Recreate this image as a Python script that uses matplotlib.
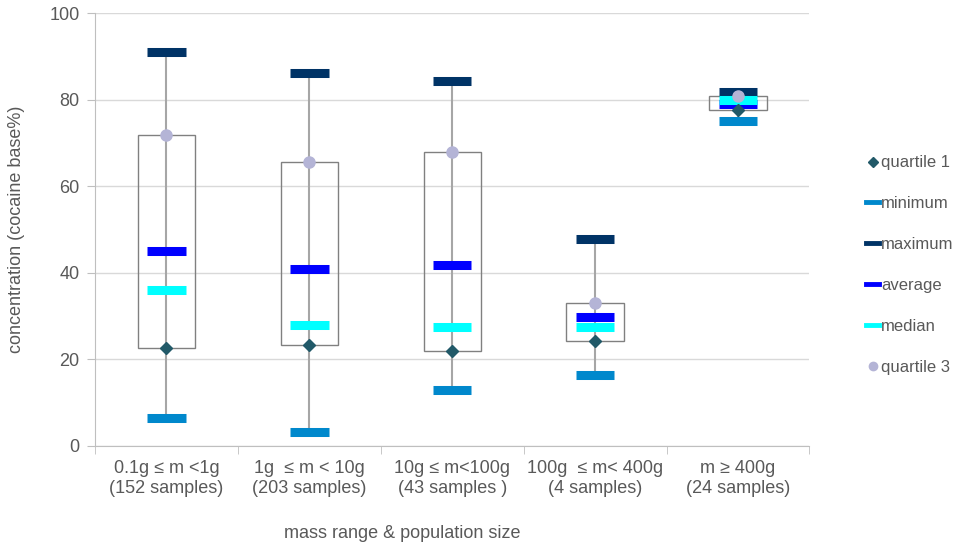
import numpy as np
import matplotlib
matplotlib.use('Agg')
import matplotlib.pyplot as plt
from matplotlib.lines import Line2D

plt.rcParams['font.family'] = ['Liberation Sans', 'DejaVu Sans']

categories = ['0.1g \u2264 m <1g\n(152 samples)', '1g  \u2264 m < 10g\n(203 samples)',
              '10g \u2264 m<100g\n(43 samples )', '100g  \u2264 m< 400g\n(4 samples)',
              'm \u2265 400g\n(24 samples)']
minimum = [6.5, 3.3, 12.9, 16.3, 75.0]
quartile1 = [22.5, 23.2, 21.9, 24.3, 77.6]
median = [36.0, 27.9, 27.4, 27.5, 80.0]
average = [45.1, 40.9, 41.8, 29.7, 79.0]
quartile3 = [71.8, 65.5, 67.8, 32.9, 80.9]
maximum = [90.9, 86.2, 84.3, 47.7, 81.7]

c_min = '#0088cc'
c_max = '#003366'
c_avg = '#0000ff'
c_med = '#00ffff'
c_q1 = '#215968'
c_q3 = '#b4b4d6'
txt = '#595959'

fig = plt.figure(figsize=(9.59, 5.45), dpi=100)
ax = fig.add_axes([0.099, 0.182, 0.745, 0.794])

x = np.arange(len(categories))
bw = 0.4   # box width
hw = 0.135 # half width of bars

for i in x:
    ax.plot([i, i], [minimum[i], maximum[i]], color='#a6a6a6', lw=1.5, zorder=2)
    ax.add_patch(plt.Rectangle((i - bw / 2, quartile1[i]), bw, quartile3[i] - quartile1[i],
                               fill=False, edgecolor='#808080', lw=1, zorder=2))

ax.hlines(minimum, x - hw, x + hw, colors=c_min, lw=6.5, zorder=3)
ax.hlines(maximum, x - hw, x + hw, colors=c_max, lw=6.5, zorder=3)
ax.hlines(average, x - hw, x + hw, colors=c_avg, lw=6.5, zorder=3)
ax.hlines(median, x - hw, x + hw, colors=c_med, lw=6.5, zorder=3)
ax.plot(x, quartile1, 'D', color=c_q1, ms=6, zorder=4)
ax.plot(x, quartile3, 'o', color=c_q3, ms=8, zorder=4)

ax.set_xlim(-0.5, len(categories) - 0.5)
ax.set_ylim(0, 100)
ax.set_yticks(range(0, 101, 20))
ax.yaxis.grid(True, color='#d9d9d9', lw=1)
ax.set_axisbelow(True)
ax.set_xticks(x)
ax.set_xticklabels(categories, fontsize=13, color=txt, linespacing=1.25)
ax.set_xticks(np.arange(-0.5, len(categories), 1), minor=True)
ax.tick_params(axis='x', which='major', length=0, pad=10)
ax.tick_params(axis='x', which='minor', length=6, color='#bfbfbf')
ax.tick_params(axis='y', length=6, color='#bfbfbf', labelsize=13, labelcolor=txt, pad=5)
for s in ['top', 'right']:
    ax.spines[s].set_visible(False)
for s in ['left', 'bottom']:
    ax.spines[s].set_color('#bfbfbf')

ax.set_ylabel('concentration (cocaine base%)', fontsize=13, color=txt)
ax.yaxis.set_label_coords(-0.098, 0.5)
ax.set_xlabel('mass range & population size', fontsize=13, color=txt)
ax.xaxis.set_label_coords(0.43, -0.182)

handles = [
    Line2D([], [], ls='none', marker='D', color=c_q1, ms=5),
    Line2D([], [], color=c_min, lw=3.5),
    Line2D([], [], color=c_max, lw=3.5),
    Line2D([], [], color=c_avg, lw=3.5),
    Line2D([], [], color=c_med, lw=3.5),
    Line2D([], [], ls='none', marker='o', color=c_q3, ms=6),
]
labels = ['quartile 1', 'minimum', 'maximum', 'average', 'median', 'quartile 3']
leg = fig.legend(handles, labels, loc='upper left', bbox_to_anchor=(0.896, 0.727),
                 frameon=False, fontsize=12, labelcolor=txt, handlelength=0.8,
                 handletextpad=0.1, labelspacing=1.55, borderaxespad=0)

fig.savefig('out.png', dpi=100)
